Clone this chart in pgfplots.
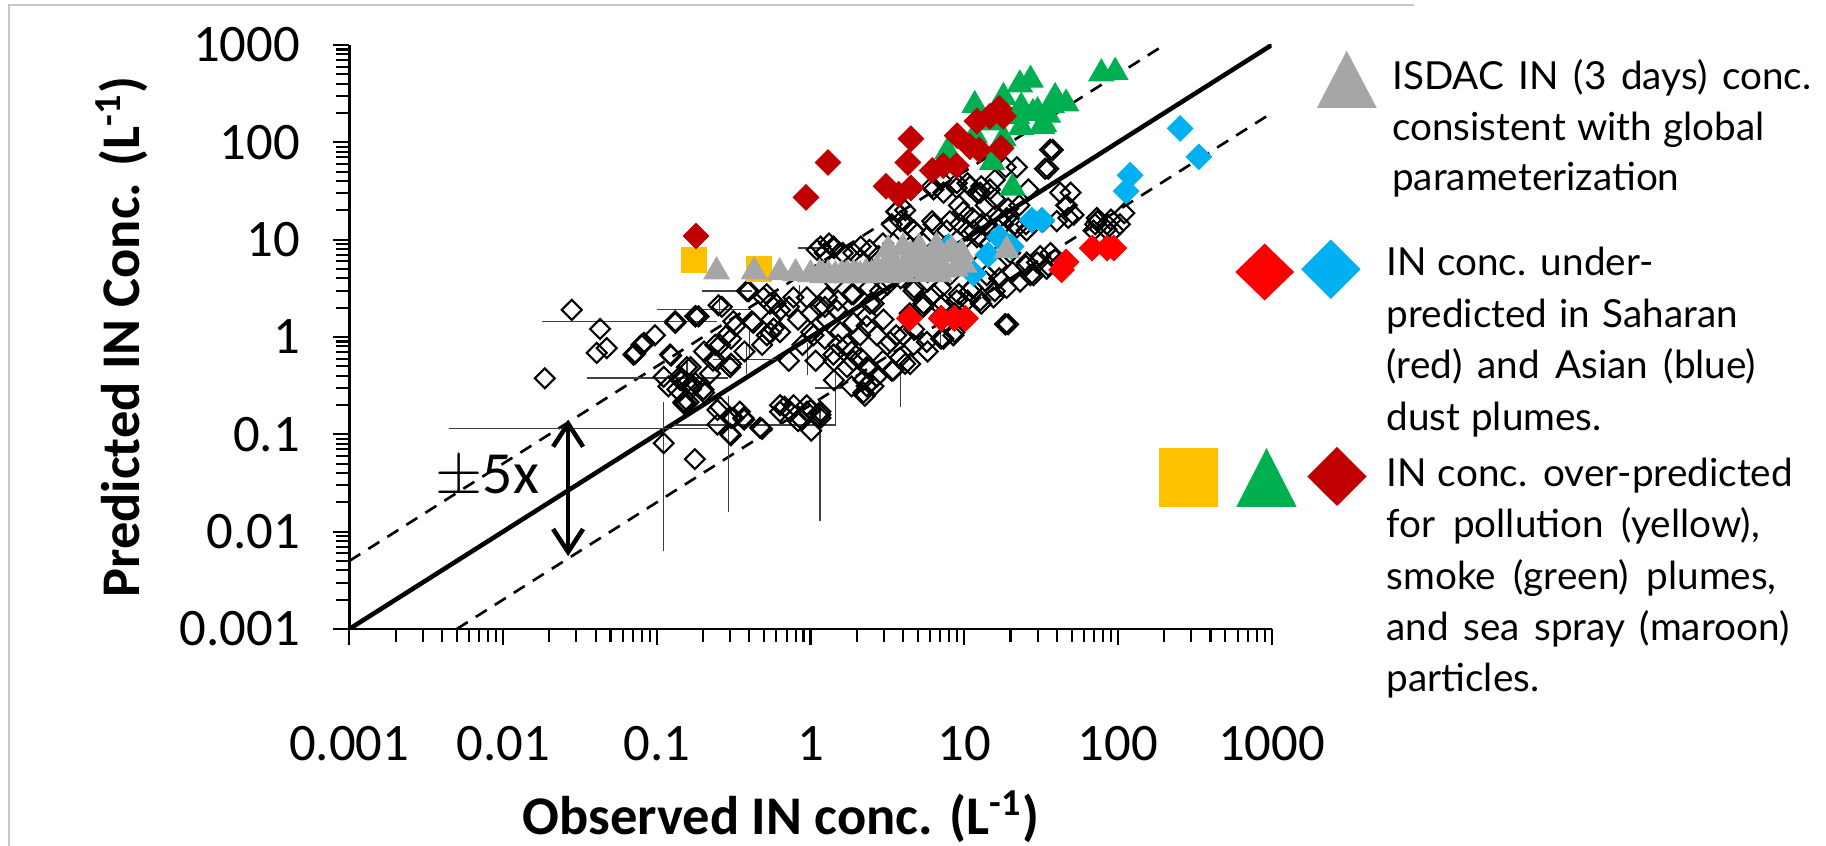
\documentclass[border=0pt]{standalone}
\usepackage{pgfplots}
\pgfplotsset{compat=1.18}
\usepackage{fontspec}
\setmainfont{Carlito}
\newfontfamily\legendfont{Lato}
\usetikzlibrary{arrows.meta}
\definecolor{cgray}{HTML}{A6A6A6}
\definecolor{cred}{HTML}{FF0000}
\definecolor{cblue}{HTML}{00B0F0}
\definecolor{cyellow}{HTML}{FFC000}
\definecolor{cgreen}{HTML}{00B050}
\definecolor{cmaroon}{HTML}{C00000}
\pgfplotsset{errb/.style={black!75, line width=0.4pt, forget plot, mark=none}}
\newcommand{\eb}[4]{\addplot[errb] coordinates {(#1,#2) (#3,#4)};}
\newcommand{\lgline}[3]{\node[anchor=base west, inner sep=0pt, font=\legendfont\fontsize{11}{13}\selectfont] at (#1) {#2};}
\begin{document}
\begin{tikzpicture}
\path[use as bounding box] (0,0) rectangle (182.6mm,84.6mm);
\draw[black!22, line width=0.5pt] (0.9mm,0) -- (0.9mm,84.07mm) -- (141.4mm,84.07mm);
\begin{axis}[
 at={(34.93mm,21.7mm)}, anchor=south west,
 scale only axis, width=92.24mm, height=58.4mm,
 xmode=log, ymode=log,
 xmin=0.001, xmax=1000, ymin=0.001, ymax=1000,
 axis x line=bottom, axis y line=left,
 axis line style={line width=0.8pt, -},
 tick align=outside,
 major tick length=1.6mm, minor tick length=1.3mm,
 every tick/.style={black, line width=0.6pt},
 xtick={0.001,0.01,0.1,1,10,100,1000},
 xticklabels={0.001,0.01,0.1,1,10,100,1000},
 ytick={0.001,0.01,0.1,1,10,100,1000},
 yticklabels={0.001,0.01,0.1,1,10,100,1000},
 tick label style={font=\fontsize{15}{18}\selectfont},
 xticklabel style={anchor=center, yshift=-9.9mm},
 yticklabel style={anchor=east, inner sep=0pt, xshift=-3.27mm},
 xlabel={Observed IN conc. (L\textsuperscript{-1})},
 ylabel={Predicted IN Conc. (L\textsuperscript{-1})},
 xlabel style={at={(axis description cs:0.468,-0.3214)}, anchor=center, font=\fontsize{15.5}{18}\selectfont\bfseries},
 ylabel style={at={(axis description cs:-0.2466,0.5)}, anchor=center, font=\fontsize{15.5}{18}\selectfont\bfseries},
]
% reference lines
\addplot[black, line width=1.3pt, mark=none] coordinates {(0.001,0.001) (1000,1000)};
\addplot[black, line width=0.75pt, mark=none, dash pattern=on 1.3mm off 0.95mm] coordinates {(0.001,0.005) (200,1000)};
\addplot[black, line width=0.75pt, mark=none, dash pattern=on 1.3mm off 0.95mm] coordinates {(0.005,0.001) (1000,200)};
% error bars
\eb{0.00445}{0.115}{0.216}{0.115}
\eb{0.13}{0.125}{1.47}{0.125}
\eb{1.07}{0.30}{1.6}{0.30}
\eb{0.035}{0.38}{0.29}{0.38}
\eb{0.233}{0.585}{0.60}{0.585}
\eb{0.018}{1.45}{0.245}{1.45}
\eb{0.10}{1.92}{0.41}{1.92}
\eb{0.197}{2.97}{0.417}{2.97}
\eb{0.83}{8.2}{1.24}{8.2}
\eb{0.111}{0.0063}{0.111}{0.215}
\eb{0.293}{0.0161}{0.293}{0.249}
\eb{1.15}{0.0129}{1.15}{0.23}
\eb{0.385}{0.42}{0.385}{0.83}
\eb{0.157}{0.39}{0.157}{0.55}
\eb{0.96}{0.405}{0.96}{0.86}
\eb{1.46}{0.127}{1.46}{0.42}
\eb{0.256}{1.75}{0.256}{2.55}
\eb{0.85}{2.37}{0.85}{3.44}
\eb{0.40}{0.66}{0.40}{1.16}
\eb{3.86}{0.19}{3.86}{0.42}
\eb{7.0}{0.77}{7.0}{1.12}
% black open diamonds (all campaigns)
\addplot[only marks, mark=square, mark size=2pt, mark options={rotate=45, line width=0.6pt, draw=black, fill=none}] coordinates {
(0.028,1.9) (0.0428,1.21) (0.0407,0.687) (0.0473,0.769) (0.0723,0.687) (0.0187,0.376) (0.083,0.867) (0.072,0.667) (0.124,0.643) (0.132,1.41) (0.179,1.64) (0.157,0.34) (0.167,0.292) (0.155,0.208)
(0.111,0.081) (0.177,0.0556) (0.15,0.207) (0.248,0.178) (0.303,0.0977) (0.37,0.142) (0.484,0.1135) (0.678,0.192) (0.83,0.137) (1.01,0.109) (1.16,0.159) (1.0,0.178) (0.149,0.214) (0.258,0.191) (0.315,0.147) (0.30,0.101) (0.366,0.147) (0.47,0.117) (0.634,0.199) (0.74,0.171) (0.855,0.147) (1.16,0.171) (0.946,0.199)
(0.386,2.97) (0.252,2.12) (0.187,1.63) (0.132,1.45) (0.082,0.86) (0.0705,0.66) (0.122,0.66) (0.157,0.49) (0.142,0.362) (0.169,0.324) (0.201,0.289) (0.222,0.42) (0.258,0.83) (0.285,1.04) (0.245,0.569) (0.30,0.49) (0.315,1.45) (0.415,1.45) (0.52,1.04) (0.574,1.22) (0.55,1.1)
(1.045,1.04) (1.28,1.51) (1.48,1.89) (1.90,1.40) (2.10,1.04) (1.72,0.83) (1.41,0.66) (1.90,0.569) (2.32,0.49) (2.21,0.362) (2.57,0.312) (1.16,2.04) (0.946,2.55) (1.28,2.55) (1.56,1.12) (2.32,1.63) (2.57,2.20) (1.90,2.75) (1.41,3.72) (1.10,7.87) (1.41,8.49) (1.90,7.31) (0.546,2.20) (0.634,1.89) (0.774,2.55) (0.494,2.55)
(37.7,83.8) (35.2,53.5) (26.1,32.8) (49.2,30.4) (46.0,22.5) (47.5,16.7) (73.5,15.5) (90.0,16.1) (110,18.7) (103,14.4) (84.1,12.8) (71.1,14.4) (18.6,55.5) (22.0,55.5)
(15.8,41.1) (12.9,35.3) (14.7,32.8) (12.1,30.4) (10.5,38.1) (8.93,34.0) (6.18,35.3) (7.06,41.1) (3.61,19.4) (4.13,20.1) (3.86,15.5) (4.72,12.4) (3.38,14.4) (6.18,15.5) (8.07,15.5) (9.87,19.4) (11.3,16.7) (12.9,14.4) (14.7,12.4) (10.5,12.4) (12.1,10.6) (14.7,9.14) (18.0,14.4) (16.9,16.7) (19.3,20.9) (22.8,22.5) (25.2,14.4) (22.0,13.3) (9.23,22.5) (13.8,22.5) (15.8,26.2)
(1.16,8.49) (1.32,9.14) (1.42,8.17) (1.24,7.30) (1.62,7.30) (2.12,8.49) (2.42,7.87) (2.96,9.14) (2.12,6.28) (2.77,6.77) (3.38,5.82) (4.72,7.87) (5.40,9.14) (7.55,8.49) (5.78,6.77)
(4.42,5.40) (3.86,4.00) (4.72,3.20) (5.78,3.71) (7.06,3.20) (8.07,4.32) (5.78,4.65) (9.23,2.75) (11.3,3.20) (13.8,3.71) (16.9,4.00) (20.6,4.65) (25.2,5.40) (29.8,5.82) (35.2,5.40) (38.9,6.28) (36.4,7.30) (26.9,4.32) (15.8,2.96) (12.9,2.20) (10.5,2.37) (8.63,1.75) (7.06,1.63) (19.3,1.35)
(0.519,2.75) (0.593,2.20) (0.724,2.04) (0.555,1.51) (0.425,1.40) (0.325,1.30) (0.304,0.96) (0.240,0.83) (0.203,0.71) (0.232,0.57) (0.166,0.49) (0.146,0.36) (0.178,0.336) (0.203,0.268) (0.161,0.214) (0.136,0.289) (0.304,0.53) (0.372,0.71) (0.485,0.83) (0.634,1.12) (0.830,1.51) (1.01,1.75) (1.24,2.04) (1.51,2.37) (1.85,2.75) (2.42,3.20) (3.16,3.44) (1.01,1.12) (1.24,0.96) (1.51,0.83) (1.85,0.71) (2.12,0.61) (1.42,0.57) (1.73,0.49) (2.42,0.49) (2.96,0.57) (3.16,0.83) (3.61,1.04) (4.72,1.20) (4.42,1.75) (5.40,2.04) (7.06,2.04) (7.06,0.96) (8.63,1.12) (5.78,0.71) (3.38,0.45) (4.13,0.53) (2.42,0.336) (1.85,0.311) (2.26,0.249) (1.42,0.36) (1.08,0.57) (0.887,0.83) (0.724,0.57) (0.776,0.199) (0.634,0.171) (0.948,0.171) (1.16,0.147) (0.347,0.171) (0.304,0.147) (0.248,0.126) (0.119,0.311) (0.111,0.39) (0.141,0.39) (0.397,2.96) (0.265,2.04) (0.178,1.63) (0.132,1.40) (0.0973,1.04) (0.0796,0.83)
(36.2,84) (33.6,53.5) (42.1,30.4) (46.5,22.5) (51.4,18.0) (40.0,15.5) (72.9,16.7) (84.7,14.4) (69.4,12.4) (93.6,12.4) (32.7,15.5) (25.5,12.4) (21.4,14.4) (18.9,16.7) (17.1,10.6) (14.0,14.4) (11.5,12.4) (9.40,14.4) (7.71,12.4) (6.31,14.4) (5.71,10.6) (4.45,8.49) (3.46,9.16) (3.64,19.4) (4.24,14.4) (4.68,12.4) (8.95,38.1) (10.9,35.4) (12.7,30.4) (7.33,30.4) (6.31,32.8) (9.40,6.78) (11.5,7.87) (14.0,4.32) (16.3,5.41) (19.9,7.31) (25.5,5.83) (31.2,6.78) (34.4,5.02) (28.2,4.32) (23.1,3.72) (18.9,3.20) (15.5,2.55) (12.7,2.37) (10.9,2.97) (8.95,2.37) (7.33,2.20) (6.31,2.75) (5.43,2.20) (4.68,2.97) (2.84,2.97) (2.44,2.20) (2.98,1.51) (18.5,1.35)
(2.32,1.30) (2.70,1.04) (3.30,0.89) (4.02,1.04) (4.68,0.83) (5.71,0.89) (7.33,0.96) (8.51,1.04) (3.83,0.614) (4.45,0.528) (3.46,0.454) (2.70,0.391) (2.32,0.312) (2.21,0.268) (18.5,1.35)
};
% pollution (yellow)
\addplot[only marks, mark=square*, mark size=3.5pt, mark options={fill=cyellow, draw=cyellow}] coordinates {(0.175,6.2) (0.46,4.95)};
% smoke (green)
\addplot[only marks, mark=triangle*, mark size=4pt, mark options={fill=cgreen, draw=cgreen}] coordinates {
(78,508) (96,527) (27,437) (23,391) (18,290) (39,290) (46,249) (11.7,240) (23.5,231) (30,207) (33,153) (23.5,142) (15.2,159) (18,109) (11.7,117) (7.8,80.7) (15.2,62.1) (20.6,34.0) (35,191) (22,185) (28,199) (37,240) (32,147)};
% sea spray (maroon)
\addplot[only marks, mark=square*, mark size=2.5pt, mark options={rotate=45, fill=cmaroon, draw=cmaroon}] coordinates {
(0.18,10.9) (0.935,27.2) (1.30,62.1) (3.1,35.3) (3.74,29.3) (4.5,34.0) (4.3,62.1) (4.5,109) (6.2,51.4) (7.3,57.5) (8.9,57.5) (9.0,117) (10.9,90.4) (12.5,83.8) (12.1,165) (14.7,185) (18,185) (16.9,222) (17.4,87.1)};
% Saharan dust (red)
\addplot[only marks, mark=square*, mark size=2.5pt, mark options={rotate=45, fill=cred, draw=cred}] coordinates {
(43,4.9) (46,5.9) (4.4,1.55) (7.1,1.55) (8.6,1.55) (10.2,1.55) (68,8.2) (85,8.2) (94,8.2)};
% Asian dust (blue)
\addplot[only marks, mark=square*, mark size=2.5pt, mark options={rotate=45, fill=cblue, draw=cblue}] coordinates {
(254,139) (336,71) (120,45.9) (113,31.5) (27.5,15.9) (32,15.9) (16.9,10.6) (20.2,8.5) (14.3,7.0) (11.5,4.5) (7.9,8.5)};
% ISDAC (gray)
\addplot[only marks, mark=triangle*, mark size=4pt, mark options={fill=cgray, draw=cgray}] coordinates {
(0.245,4.7) (0.43,4.7) (0.63,4.6) (0.80,4.5) (1.0,4.4) (1.15,4.5) (1.3,4.4) (1.45,4.3) (1.6,4.4) (1.75,4.3) (1.9,4.5) (2.1,4.3) (2.3,4.6) (2.5,4.4) (2.7,5.0) (2.9,4.5) (3.1,5.5) (3.2,7.9) (3.5,5.2) (3.7,4.6) (4.0,8.3) (4.2,5.0) (4.5,7.0) (4.8,5.4) (5.1,8.3) (5.4,6.2) (5.7,5.8) (6.2,7.0) (6.6,8.5) (6.9,5.0) (7.4,4.9) (7.8,7.1) (8.3,7.9) (8.8,5.0) (9.6,7.3) (10,5.5) (4.0,4.4) (3.2,4.3) (2.6,4.3) (2.0,4.3) (5.6,4.4) (6.9,4.4) (18.9,7.8) (1.2,4.3) (1.7,4.3)};
% annotation
\draw[{Straight Barb[length=2.3mm,width=3mm,line width=1.3pt]}-{Straight Barb[length=2.3mm,width=3mm,line width=1.3pt]}, line width=1.3pt] (axis cs:0.0265,0.142) -- (axis cs:0.0265,0.0056);
\node[font=\fontsize{17}{20}\selectfont, inner sep=0pt] at (axis cs:0.0079,0.0368) {$\pm$5x};
\end{axis}
% legend glyphs
\fill[cgray] (131.69mm,73.8mm) -- (137.68mm,73.8mm) -- (134.67mm,79.53mm) -- cycle;
\fill[cred] (126.47mm,60.25mm) -- (129.41mm,57.4mm) -- (126.47mm,54.55mm) -- (123.53mm,57.4mm) -- cycle;
\fill[cblue] (133.09mm,60.65mm) -- (136.07mm,57.67mm) -- (133.09mm,54.69mm) -- (130.11mm,57.67mm) -- cycle;
\fill[cyellow] (115.9mm,33.9mm) rectangle (121.8mm,39.8mm);
\fill[cgreen] (123.63mm,33.9mm) -- (129.67mm,33.9mm) -- (126.65mm,39.8mm) -- cycle;
\fill[cmaroon] (133.7mm,39.9mm) -- (136.66mm,36.95mm) -- (133.7mm,34.0mm) -- (130.74mm,36.95mm) -- cycle;
% legend text
\lgline{139.15mm,75.63mm}{\hbox to 41.9mm{ISDAC IN (3 days) conc.}}{}
\lgline{139.15mm,70.56mm}{\hbox to 37.25mm{consistent with global}}{}
\lgline{139.15mm,65.5mm}{parameterization}{}
\lgline{138.6mm,57.0mm}{\hbox to 26.7mm{IN conc. under-}}{}
\lgline{138.6mm,51.84mm}{\hbox to 35.1mm{predicted in Saharan}}{}
\lgline{138.6mm,46.7mm}{\hbox to 36.95mm{(red) and Asian (blue)}}{}
\lgline{138.6mm,41.5mm}{\hbox to 21.5mm{dust plumes.}}{}
\lgline{138.6mm,35.9mm}{\hbox to 40.6mm{IN conc. over-predicted}}{}
\lgline{138.6mm,30.8mm}{\hbox to 37.3mm{for pollution (yellow),}}{}
\lgline{138.6mm,25.6mm}{\hbox to 39.0mm{smoke (green) plumes,}}{}
\lgline{138.6mm,20.5mm}{\hbox to 40.26mm{and sea spray (maroon)}}{}
\lgline{138.6mm,15.4mm}{particles.}{}
\end{tikzpicture}
\end{document}
